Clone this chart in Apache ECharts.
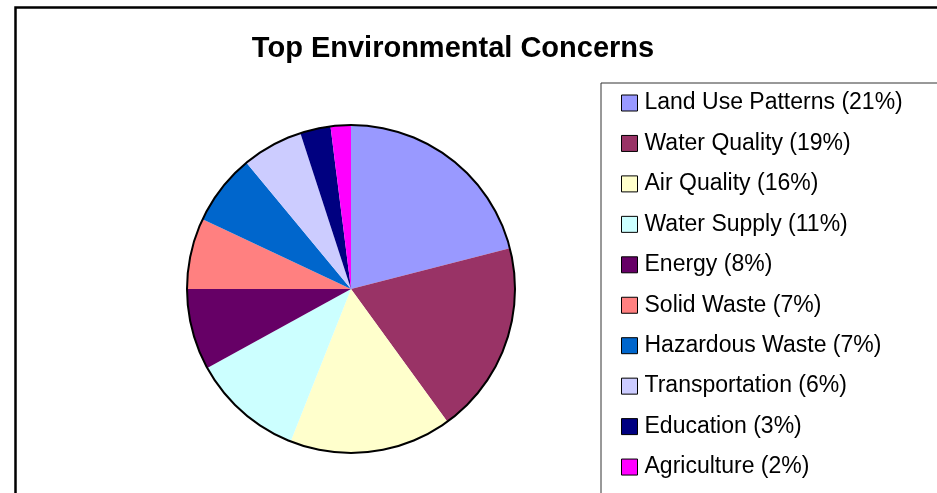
<!DOCTYPE html>
<html>
<head>
<meta charset="utf-8">
<script src="https://cdn.jsdelivr.net/npm/echarts@6/dist/echarts.min.js"></script>
<style>
html,body{margin:0;padding:0;background:#fff;}
#chart{width:937px;height:493px;}
</style>
</head>
<body>
<div id="chart"></div>
<script>
const categories = ['Land Use Patterns','Water Quality','Air Quality','Water Supply','Energy','Solid Waste','Hazardous Waste','Transportation','Education','Agriculture'];
const shares = [21,19,16,11,8,7,7,6,3,2];
const colors = ['#9999FF','#993366','#FFFFCC','#CCFFFF','#660066','#FF8080','#0066CC','#CCCCFF','#000080','#FF00FF'];
const titleText = 'Top Environmental Concerns';

const chart = echarts.init(document.getElementById('chart'), null, {renderer:'canvas'});
const data = categories.map((c,i)=>({name:c, value:shares[i], itemStyle:{color:colors[i]}}));
const labelMap = {};
categories.forEach((c,i)=>{labelMap[c] = c + ' (' + shares[i] + '%)';});

chart.setOption({
  animation:false,
  backgroundColor:'#fff',
  title:{
    text:titleText,
    left:448, top:29, textAlign:'center',
    textStyle:{fontFamily:'Liberation Sans, Arial, sans-serif', fontWeight:'bold', fontSize:29, color:'#000'}
  },
  graphic:[{
    type:'rect', silent:true, z:100,
    shape:{x:15.5, y:7.5, width:1000, height:1000},
    style:{fill:'none', stroke:'#000', lineWidth:2.5}
  }],
  legend:{
    orient:'vertical',
    left:601, top:83,
    height:460,
    padding:[8.5,60,40,20],
    itemGap:17.45,
    itemWidth:16, itemHeight:16,
    backgroundColor:'#fff',
    borderColor:'#333', borderWidth:1,
    icon:'rect',
    selectedMode:false,
    data:categories,
    itemStyle:{borderColor:'#000', borderWidth:1},
    formatter:(n)=>labelMap[n],
    textStyle:{fontFamily:'Liberation Sans, Arial, sans-serif', fontSize:23, lineHeight:23, color:'#000', padding:[0,0,0,2]}
  },
  series:[
    {
      type:'pie',
      center:[351,289], radius:[0,164],
      startAngle:90, clockwise:true,
      label:{show:false}, labelLine:{show:false},
      emphasis:{disabled:true},
      silent:true,
      itemStyle:{borderWidth:0},
      data:data
    },
    {
      type:'pie',
      center:[351,289], radius:[163,165],
      label:{show:false}, labelLine:{show:false},
      emphasis:{disabled:true},
      silent:true,
      legendHoverLink:false,
      itemStyle:{color:'#000', borderWidth:0},
      data:[{name:'outline', value:1}]
    }
  ]
});
</script>
</body>
</html>
